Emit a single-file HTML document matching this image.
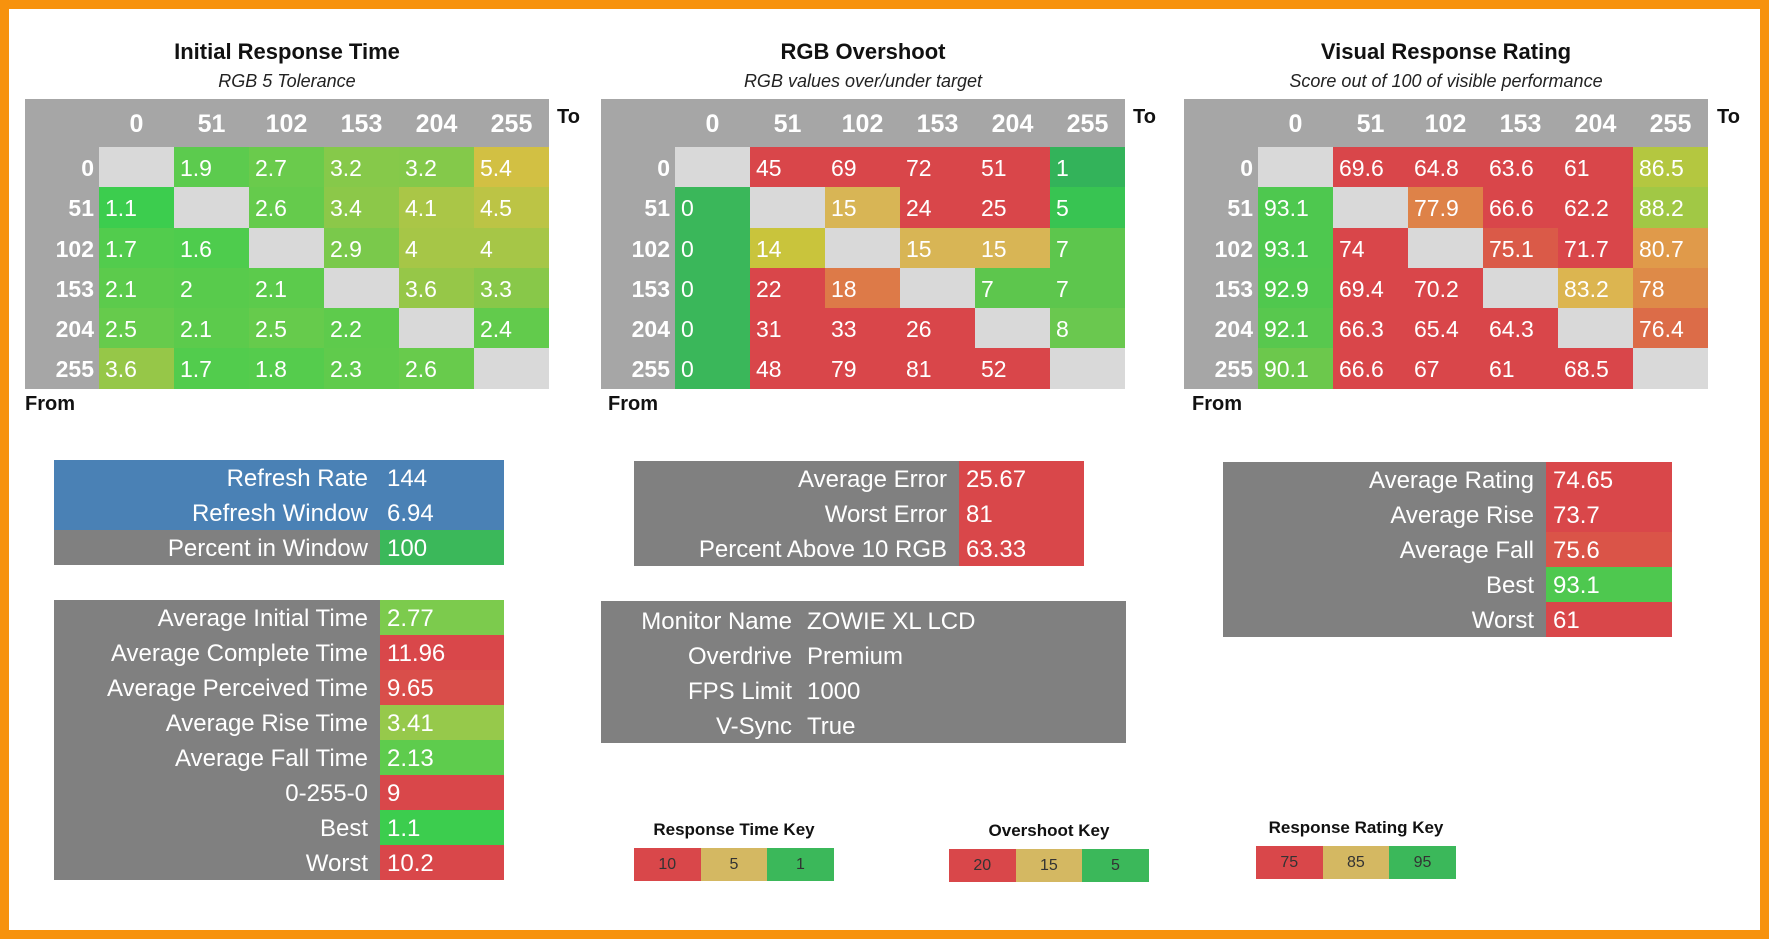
<!DOCTYPE html>
<html><head><meta charset="utf-8"><style>
*{margin:0;padding:0;box-sizing:border-box}
body{width:1769px;height:939px;background:#fff;font-family:"Liberation Sans",sans-serif;position:relative;overflow:hidden}
.frame{position:absolute;left:0;top:0;width:1769px;height:939px;border:9px solid #f7920d}
.abs{position:absolute}
.t{font-weight:bold;font-size:22px;color:#111;text-align:center;width:524px}
.st{font-style:italic;font-size:18px;color:#222;text-align:center;width:524px}
.g{position:absolute;display:grid;grid-template-columns:74px repeat(6,75px);grid-template-rows:48px repeat(6,40.3px);background:#a6a6a6;width:524px}
.g div{color:#fff;font-size:23px;line-height:37px;padding-top:3px;padding-left:6px;white-space:nowrap}
.g .h{font-weight:bold;font-size:25px;text-align:center;padding:3px 0 0 0;line-height:45px}
.g .r{font-weight:bold;font-size:23px;text-align:right;padding:3px 5px 0 0;background:#a6a6a6}
.g .e{background:#d9d9d9}
.lab{font-weight:bold;font-size:20px;color:#111}
.s{position:absolute;background:#808080;display:grid}
.s div{color:#fff;font-size:24px;line-height:32px;padding-top:3px;white-space:nowrap}
.s .l{text-align:right;padding-right:12px}
.s .v{padding-left:7px}
.key{position:absolute;display:flex;height:33px}
.key div{width:66.6px;text-align:center;line-height:33px;font-size:16px;color:#333}
.kt{position:absolute;font-weight:bold;font-size:17px;color:#111;text-align:center;width:200px}
</style></head><body>
<div class="frame"></div>

<div class="abs t" style="left:25px;top:39px">Initial Response Time</div>
<div class="abs st" style="left:25px;top:71px">RGB 5 Tolerance</div>
<div class="abs t" style="left:601px;top:39px">RGB Overshoot</div>
<div class="abs st" style="left:601px;top:71px">RGB values over/under target</div>
<div class="abs t" style="left:1184px;top:39px">Visual Response Rating</div>
<div class="abs st" style="left:1184px;top:71px">Score out of 100 of visible performance</div>

<div class="abs lab" style="left:557px;top:106px">To</div>
<div class="abs lab" style="left:1133px;top:106px">To</div>
<div class="abs lab" style="left:1717px;top:106px">To</div>
<div class="abs lab" style="left:25px;top:393px">From</div>
<div class="abs lab" style="left:608px;top:393px">From</div>
<div class="abs lab" style="left:1192px;top:393px">From</div>

<div class="g" style="left:25px;top:99px">
<div class="h"></div><div class="h">0</div><div class="h">51</div><div class="h">102</div><div class="h">153</div><div class="h">204</div><div class="h">255</div>
<div class="r">0</div><div class="e"></div><div style="background:#5ccb4e">1.9</div><div style="background:#6acb4c">2.7</div><div style="background:#86c94a">3.2</div><div style="background:#84c94a">3.2</div><div style="background:#d2c043">5.4</div>
<div class="r">51</div><div style="background:#3ccd4e">1.1</div><div class="e"></div><div style="background:#65cb4c">2.6</div><div style="background:#8cc849">3.4</div><div style="background:#aac647">4.1</div><div style="background:#bcc445">4.5</div>
<div class="r">102</div><div style="background:#52cc4d">1.7</div><div style="background:#4ecc4d">1.6</div><div class="e"></div><div style="background:#7ac94b">2.9</div><div style="background:#a6c647">4</div><div style="background:#a6c647">4</div>
<div class="r">153</div><div style="background:#5ccb4c">2.1</div><div style="background:#58cb4c">2</div><div style="background:#5ccb4c">2.1</div><div class="e"></div><div style="background:#96c748">3.6</div><div style="background:#88c849">3.3</div>
<div class="r">204</div><div style="background:#66cb4c">2.5</div><div style="background:#5ccb4c">2.1</div><div style="background:#66cb4c">2.5</div><div style="background:#5ecb4c">2.2</div><div class="e"></div><div style="background:#62cb4c">2.4</div>
<div class="r">255</div><div style="background:#96c748">3.6</div><div style="background:#52cc4d">1.7</div><div style="background:#55cc4d">1.8</div><div style="background:#60cb4c">2.3</div><div style="background:#68cb4c">2.6</div><div class="e"></div>
</div>

<div class="g" style="left:601px;top:99px">
<div class="h"></div><div class="h">0</div><div class="h">51</div><div class="h">102</div><div class="h">153</div><div class="h">204</div><div class="h">255</div>
<div class="r">0</div><div class="e"></div><div style="background:#d9464a">45</div><div style="background:#d9464a">69</div><div style="background:#d9464a">72</div><div style="background:#d9464a">51</div><div style="background:#33b35a">1</div>
<div class="r">51</div><div style="background:#3ab75a">0</div><div class="e"></div><div style="background:#d8b555">15</div><div style="background:#d9464a">24</div><div style="background:#d9464a">25</div><div style="background:#38c452">5</div>
<div class="r">102</div><div style="background:#3ab75a">0</div><div style="background:#c9c43c">14</div><div class="e"></div><div style="background:#d8b555">15</div><div style="background:#d8b555">15</div><div style="background:#5dc64d">7</div>
<div class="r">153</div><div style="background:#3ab75a">0</div><div style="background:#d9464a">22</div><div style="background:#dd7a48">18</div><div class="e"></div><div style="background:#5dc64d">7</div><div style="background:#5dc64d">7</div>
<div class="r">204</div><div style="background:#3ab75a">0</div><div style="background:#d9464a">31</div><div style="background:#d9464a">33</div><div style="background:#d9464a">26</div><div class="e"></div><div style="background:#6ac84f">8</div>
<div class="r">255</div><div style="background:#3ab75a">0</div><div style="background:#d9464a">48</div><div style="background:#d9464a">79</div><div style="background:#d9464a">81</div><div style="background:#d9464a">52</div><div class="e"></div>
</div>

<div class="g" style="left:1184px;top:99px">
<div class="h"></div><div class="h">0</div><div class="h">51</div><div class="h">102</div><div class="h">153</div><div class="h">204</div><div class="h">255</div>
<div class="r">0</div><div class="e"></div><div style="background:#d9464a">69.6</div><div style="background:#d9464a">64.8</div><div style="background:#d9464a">63.6</div><div style="background:#d9464a">61</div><div style="background:#b4c740">86.5</div>
<div class="r">51</div><div style="background:#4ec84f">93.1</div><div class="e"></div><div style="background:#de8248">77.9</div><div style="background:#d9464a">66.6</div><div style="background:#d9464a">62.2</div><div style="background:#a1c845">88.2</div>
<div class="r">102</div><div style="background:#4ec84f">93.1</div><div style="background:#d9464a">74</div><div class="e"></div><div style="background:#da5a48">75.1</div><div style="background:#d9464a">71.7</div><div style="background:#e09a4a">80.7</div>
<div class="r">153</div><div style="background:#50c84e">92.9</div><div style="background:#d9464a">69.4</div><div style="background:#d9464a">70.2</div><div class="e"></div><div style="background:#dcb550">83.2</div><div style="background:#de8a48">78</div>
<div class="r">204</div><div style="background:#58c84e">92.1</div><div style="background:#d9464a">66.3</div><div style="background:#d9464a">65.4</div><div style="background:#d9464a">64.3</div><div class="e"></div><div style="background:#dc6c48">76.4</div>
<div class="r">255</div><div style="background:#6cc84c">90.1</div><div style="background:#d9464a">66.6</div><div style="background:#d9464a">67</div><div style="background:#d9464a">61</div><div style="background:#d9464a">68.5</div><div class="e"></div>
</div>

<div class="s" style="left:54px;top:460px;width:450px;grid-template-columns:326px 124px">
<div class="l" style="background:#4a81b5">Refresh Rate</div><div class="v" style="background:#4a81b5">144</div>
<div class="l" style="background:#4a81b5">Refresh Window</div><div class="v" style="background:#4a81b5">6.94</div>
<div class="l">Percent in Window</div><div class="v" style="background:#3bb85a">100</div>
</div>

<div class="s" style="left:54px;top:600px;width:450px;grid-template-columns:326px 124px">
<div class="l">Average Initial Time</div><div class="v" style="background:#7ccb4d">2.77</div>
<div class="l">Average Complete Time</div><div class="v" style="background:#d9474a">11.96</div>
<div class="l">Average Perceived Time</div><div class="v" style="background:#d94e4a">9.65</div>
<div class="l">Average Rise Time</div><div class="v" style="background:#96c94b">3.41</div>
<div class="l">Average Fall Time</div><div class="v" style="background:#5ecc4d">2.13</div>
<div class="l">0-255-0</div><div class="v" style="background:#d9474a">9</div>
<div class="l">Best</div><div class="v" style="background:#3ccd4e">1.1</div>
<div class="l">Worst</div><div class="v" style="background:#d9474a">10.2</div>
</div>

<div class="s" style="left:634px;top:461px;width:450px;grid-template-columns:325px 125px">
<div class="l">Average Error</div><div class="v" style="background:#d9474a">25.67</div>
<div class="l">Worst Error</div><div class="v" style="background:#d9474a">81</div>
<div class="l">Percent Above 10 RGB</div><div class="v" style="background:#d9474a">63.33</div>
</div>

<div class="s" style="left:601px;top:601px;width:525px;grid-template-columns:199px 326px;padding-top:2px">
<div class="l" style="padding-right:8px">Monitor Name</div><div class="v">ZOWIE XL LCD</div>
<div class="l" style="padding-right:8px">Overdrive</div><div class="v">Premium</div>
<div class="l" style="padding-right:8px">FPS Limit</div><div class="v">1000</div>
<div class="l" style="padding-right:8px">V-Sync</div><div class="v">True</div>
</div>

<div class="s" style="left:1223px;top:462px;width:449px;grid-template-columns:323px 126px">
<div class="l">Average Rating</div><div class="v" style="background:#d9474a">74.65</div>
<div class="l">Average Rise</div><div class="v" style="background:#d9474a">73.7</div>
<div class="l">Average Fall</div><div class="v" style="background:#da5448">75.6</div>
<div class="l">Best</div><div class="v" style="background:#4ec84f">93.1</div>
<div class="l">Worst</div><div class="v" style="background:#d9474a">61</div>
</div>

<div class="kt" style="left:634px;top:820px">Response Time Key</div>
<div class="key" style="left:634px;top:848px"><div style="background:#d9474a">10</div><div style="background:#d4b862">5</div><div style="background:#3bb85a">1</div></div>
<div class="kt" style="left:949px;top:821px">Overshoot Key</div>
<div class="key" style="left:949px;top:849px"><div style="background:#d9474a">20</div><div style="background:#d4b862">15</div><div style="background:#3bb85a">5</div></div>
<div class="kt" style="left:1256px;top:818px">Response Rating Key</div>
<div class="key" style="left:1256px;top:846px"><div style="background:#d9474a">75</div><div style="background:#d4b862">85</div><div style="background:#3bb85a">95</div></div>
</body></html>
